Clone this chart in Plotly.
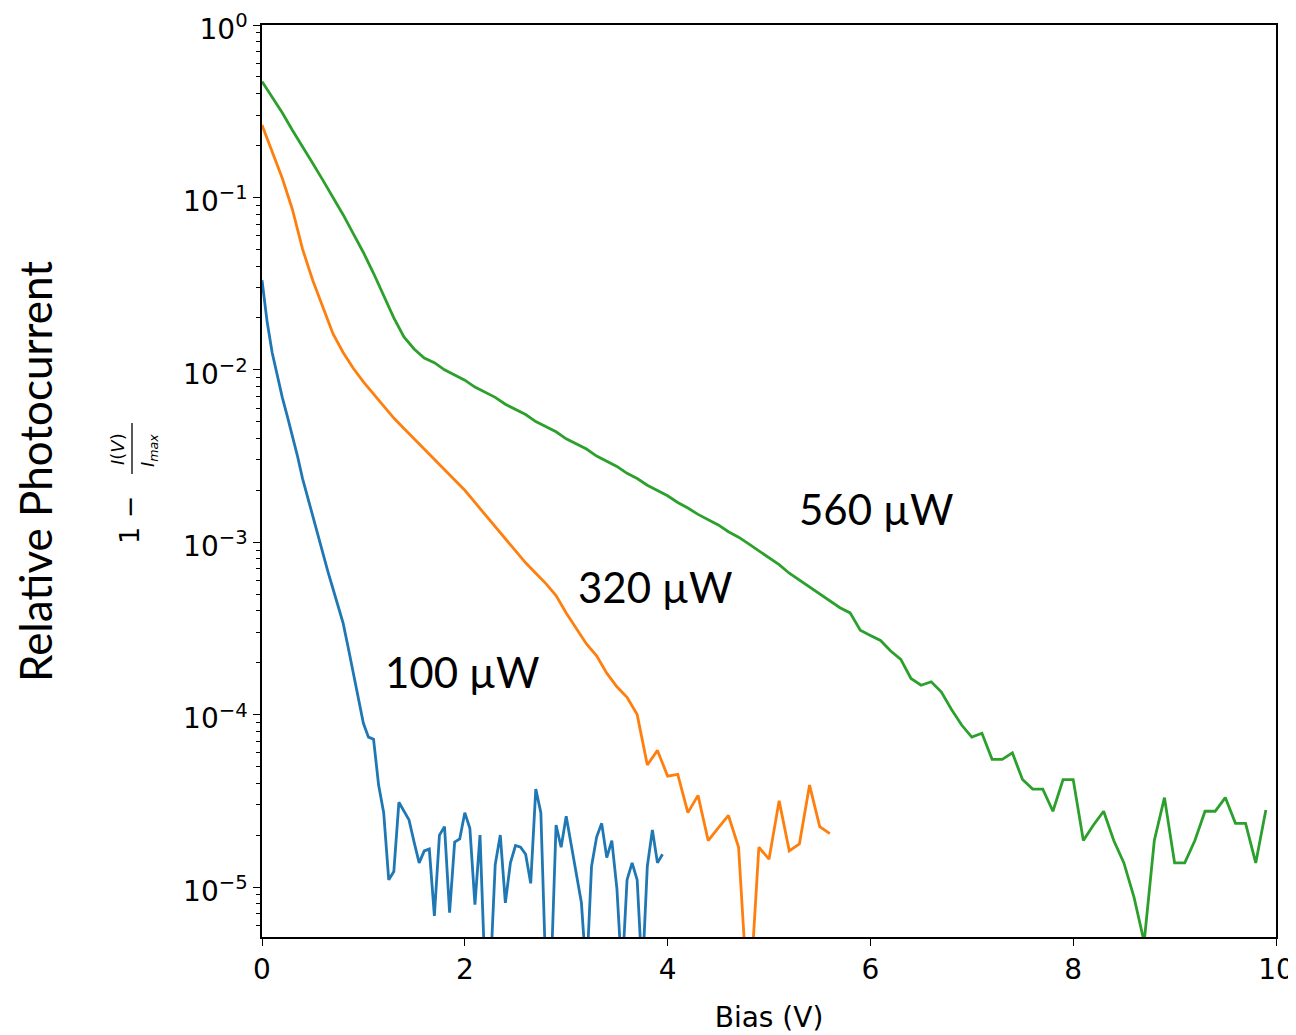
import plotly.graph_objects as go

# ---------------- data ----------------
bias_100uW = [i / 20 for i in range(80)]      # 0.00 ... 3.95 V, 0.05 V steps
bias_320uW = [i / 10 for i in range(57)]      # 0.0 ... 5.6 V, 0.1 V steps
bias_560uW = [i / 10 for i in range(100)]     # 0.0 ... 9.9 V, 0.1 V steps

rel_100uW = [
    0.0331, 0.0191, 0.0126, 0.00912, 0.00692, 0.00537, 0.00417, 0.00316, 0.00234, 0.00182,
    0.00141, 0.00110, 0.000851, 0.000676, 0.000537, 0.000427, 0.000339, 0.000245, 0.000174, 0.000120,
    8.9e-5, 7.4e-5, 7.2e-5, 3.9e-5, 2.7e-5, 1.10e-5, 1.23e-5, 3.1e-5, 2.75e-5, 2.45e-5,
    1.82e-5, 1.38e-5, 1.62e-5, 1.66e-5, 6.8e-6, 2.0e-5, 2.24e-5, 7.1e-6, 1.82e-5, 1.9e-5,
    2.7e-5, 2.19e-5, 7.9e-6, 2.0e-5, 3e-6, 3e-6, 1.35e-5, 2.0e-5, 8.1e-6, 1.38e-5,
    1.74e-5, 1.7e-5, 1.55e-5, 1.05e-5, 3.7e-5, 2.7e-5, 3e-6, 3e-6, 2.29e-5, 1.7e-5,
    2.57e-5, 1.74e-5, 1.2e-5, 8.1e-6, 3e-6, 1.32e-5, 1.95e-5, 2.34e-5, 1.48e-5, 1.86e-5,
    9.8e-6, 3e-6, 1.1e-5, 1.38e-5, 1.1e-5, 3e-6, 1.32e-5, 2.14e-5, 1.38e-5, 1.55e-5,
]

rel_320uW = [
    0.263, 0.182, 0.129, 0.0851, 0.0501, 0.0331, 0.0229, 0.0162, 0.0126, 0.0102,
    0.00851, 0.00724, 0.00617, 0.00525, 0.00457, 0.00398, 0.00347, 0.00302, 0.00263, 0.00229,
    0.00200, 0.00170, 0.00145, 0.00123, 0.00105, 0.000891, 0.000759, 0.000661, 0.000575, 0.000490,
    0.000389, 0.000316, 0.000257, 0.000219, 0.000174, 0.000145, 0.000126, 0.000100, 5.1e-5, 6.2e-5,
    4.4e-5, 4.5e-5, 2.7e-5, 3.4e-5, 1.86e-5, 2.2e-5, 2.6e-5, 1.7e-5, 1.8e-6, 1.7e-5,
    1.45e-5, 3.16e-5, 1.62e-5, 1.78e-5, 3.9e-5, 2.24e-5, 2.04e-5,
]

rel_560uW = [
    0.47, 0.38, 0.31, 0.245, 0.195, 0.158, 0.126, 0.100, 0.0794, 0.0617,
    0.0479, 0.0363, 0.0269, 0.0200, 0.0155, 0.0132, 0.0117, 0.0110, 0.0100, 0.00933,
    0.00871, 0.00794, 0.00741, 0.00692, 0.00631, 0.00589, 0.00550, 0.00501, 0.00468, 0.00437,
    0.00398, 0.00372, 0.00347, 0.00316, 0.00295, 0.00275, 0.00251, 0.00234, 0.00214, 0.00200,
    0.00186, 0.00170, 0.00158, 0.00145, 0.00135, 0.00126, 0.00115, 0.00107, 0.000977, 0.000891,
    0.000813, 0.000741, 0.000661, 0.000603, 0.000550, 0.000501, 0.000457, 0.000417, 0.000389, 0.000309,
    0.000288, 0.000269, 0.000234, 0.000209, 0.000162, 0.000148, 0.000155, 0.000135, 0.000107, 8.7e-5,
    7.4e-5, 7.8e-5, 5.5e-5, 5.5e-5, 6.0e-5, 4.2e-5, 3.7e-5, 3.7e-5, 2.75e-5, 4.2e-5,
    4.2e-5, 1.86e-5, 2.29e-5, 2.75e-5, 1.86e-5, 1.38e-5, 8.7e-6, 4.8e-6, 1.86e-5, 3.3e-5,
    1.38e-5, 1.38e-5, 1.86e-5, 2.75e-5, 2.75e-5, 3.3e-5, 2.34e-5, 2.34e-5, 1.38e-5, 2.8e-5,
]

series_names = ["100 µW", "320 µW", "560 µW"]
series_colors = ["#1f77b4", "#ff7f0e", "#2ca02c"]

x_tickvals = [0, 2, 4, 6, 8, 10]
y_tickvals = [1, 0.1, 0.01, 0.001, 0.0001, 0.00001]
y_ticktext = ["10<sup>0</sup>", "10<sup>−1</sup>", "10<sup>−2</sup>",
              "10<sup>−3</sup>", "10<sup>−4</sup>", "10<sup>−5</sup>"]

# label anchor points (bias, log10 value) for the in-plot labels
label_pos = [(1.98, -3.75), (3.88, -3.26), (6.06, -2.81)]

# ---------------- figure ----------------
# the page body adds an 8 px margin, so the figure is drawn 8 px in from the corner
OFF = 8
W, H = 1296 - OFF, 1035 - OFF
ML, MT = 262 - OFF, 25 - OFF
MR = W - (1276 - OFF)
MB = H - (937 - OFF)
PW, PH = W - ML - MR, H - MT - MB


def px(xs):
    """screen x pixel -> paper coordinate"""
    return (xs - OFF - ML) / PW


def py(ys):
    """screen y pixel -> paper coordinate"""
    return (H - MB - (ys - OFF)) / PH


fig = go.Figure()
for xs, ys, name, col in zip([bias_100uW, bias_320uW, bias_560uW],
                             [rel_100uW, rel_320uW, rel_560uW],
                             series_names, series_colors):
    fig.add_trace(go.Scatter(x=xs, y=ys, mode="lines", name=name,
                             line=dict(color=col, width=2.8), showlegend=False))

tick_font = dict(family="DejaVu Sans", size=28, color="black")
label_font = dict(family="Lato", size=42, color="black")

fig.update_layout(
    width=W, height=H,
    margin=dict(l=ML, r=MR, t=MT, b=MB, autoexpand=False),
    paper_bgcolor="white", plot_bgcolor="white",
    xaxis=dict(
        range=[0, 10], tickmode="array", tickvals=x_tickvals,
        ticks="outside", ticklen=7, tickwidth=1.3, tickcolor="black",
        showline=True, linecolor="black", linewidth=1.5, mirror=True,
        showgrid=False, zeroline=False, tickfont=tick_font, automargin=False,
        ticklabeloverflow="allow",
        title=dict(text="Bias (V)", font=tick_font, standoff=22),
    ),
    yaxis=dict(
        type="log", range=[-5.29, 0], tickmode="array",
        tickvals=y_tickvals, ticktext=y_ticktext,
        ticks="outside", ticklen=7, tickwidth=1.3, tickcolor="black",
        showline=True, linecolor="black", linewidth=1.5, mirror=True,
        showgrid=False, zeroline=False, tickfont=tick_font, automargin=False,
        ticklabeloverflow="allow", ticklabelshift=4,
        minor=dict(ticks="outside", ticklen=4, tickwidth=1, tickcolor="black",
                   dtick="D1", showgrid=False),
    ),
)

for (bx, ly), name in zip(label_pos, series_names):
    fig.add_annotation(x=bx, y=ly, xref="x", yref="y", text=name, showarrow=False,
                       font=label_font, xanchor="center", yanchor="middle")

# outer y label
fig.add_annotation(x=px(35), y=py(472), xref="paper", yref="paper",
                   text="Relative Photocurrent", textangle=-90, showarrow=False,
                   font=dict(family="Lato", size=44, color="black"),
                   xanchor="center", yanchor="middle")

# inner y label: 1 - I(V)/I_max  (rotated)
fig.add_annotation(x=px(129), y=py(520), xref="paper", yref="paper",
                   text="1 −", textangle=-90, showarrow=False,
                   font=dict(family="DejaVu Sans", size=27, color="black"),
                   xanchor="center", yanchor="middle")
fig.add_annotation(x=px(117), y=py(449), xref="paper", yref="paper",
                   text="<i>I</i>(<i>V</i>)", textangle=-90, showarrow=False,
                   font=dict(family="DejaVu Sans", size=18, color="black"),
                   xanchor="center", yanchor="middle")
fig.add_annotation(x=px(149), y=py(451), xref="paper", yref="paper",
                   text="<i>I<sub>max</sub></i>", textangle=-90, showarrow=False,
                   font=dict(family="DejaVu Sans", size=18, color="black"),
                   xanchor="center", yanchor="middle")
fig.add_shape(type="line", xref="paper", yref="paper",
              x0=px(132), x1=px(132), y0=py(423), y1=py(474),
              line=dict(color="black", width=1.3))

fig.write_html("out.html")
